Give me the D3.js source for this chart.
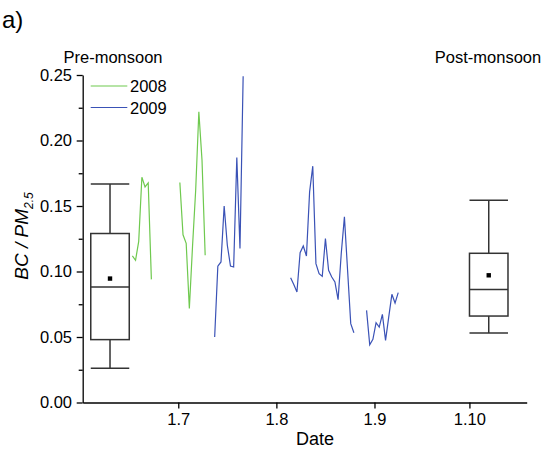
<!DOCTYPE html>
<html><head><meta charset="utf-8">
<script src="https://cdn.jsdelivr.net/npm/d3@7"></script>
<style>
html,body{margin:0;padding:0;background:#fff;}
svg text{font-family:"Liberation Sans",Arial,sans-serif;fill:#000;}
</style></head>
<body><svg id="c" width="542" height="449"></svg>
<script>
// ---- data ----
const xTickDates = ["2000-07-01","2000-08-01","2000-09-01","2000-10-01"];
const xTickLabels = ["1.7","1.8","1.9","1.10"];
const yMajorTicks = [0,0.05,0.10,0.15,0.20,0.25];
const yMinorTicks = [0.025,0.075,0.125,0.175,0.225];
const seriesNames = ["2008","2009"];
const seriesColors = ["#6fc94f","#3a52b6"];

// 2008 segments (dates, values)
const g1Dates = ["2000-06-16T12:00","2000-06-17T12:00","2000-06-18T12:00","2000-06-19T12:00","2000-06-20T12:00","2000-06-21T12:00","2000-06-22T12:00"];
const g1Values = [0.112,0.1086,0.123,0.172,0.1646,0.1677,0.094];
const g2Dates = ["2000-07-01T12:00","2000-07-02T12:00","2000-07-03T12:00","2000-07-04T12:00","2000-07-05T12:00","2000-07-06T12:00","2000-07-07T12:00","2000-07-08T12:00","2000-07-09T12:00"];
const g2Values = [0.168,0.128,0.1215,0.0717,0.119,0.162,0.222,0.185,0.1124];

// 2009 segments
const b1Dates = ["2000-07-12T12:00","2000-07-13T12:00","2000-07-14T12:00","2000-07-15T12:00","2000-07-16T12:00","2000-07-17T12:00","2000-07-18T12:00","2000-07-19T12:00","2000-07-20T12:00","2000-07-21T12:00"];
const b1Values = [0.050,0.104,0.1073,0.150,0.120,0.1042,0.1034,0.187,0.1175,0.249];
const b2Dates = ["2000-08-05T12:00","2000-08-06T12:00","2000-08-07T12:00","2000-08-08T12:00","2000-08-09T12:00","2000-08-10T12:00","2000-08-11T12:00","2000-08-12T12:00","2000-08-13T12:00","2000-08-14T12:00","2000-08-15T12:00","2000-08-16T12:00","2000-08-17T12:00","2000-08-18T12:00","2000-08-19T12:00","2000-08-20T12:00","2000-08-21T12:00","2000-08-22T12:00","2000-08-23T12:00","2000-08-24T12:00","2000-08-25T12:00"];
const b2Values = [0.0953,0.090,0.0843,0.1144,0.1195,0.1118,0.1608,0.1804,0.106,0.0984,0.0963,0.1251,0.1009,0.0958,0.092,0.0785,0.1137,0.1417,0.1009,0.0602,0.0533];
const b3Dates = ["2000-08-29T12:00","2000-08-30T12:00","2000-08-31T12:00","2000-09-01T12:00","2000-09-02T12:00","2000-09-03T12:00","2000-09-04T12:00","2000-09-05T12:00","2000-09-06T12:00","2000-09-07T12:00","2000-09-08T12:00"];
const b3Values = [0.0703,0.0441,0.0482,0.0609,0.0576,0.0673,0.0474,0.0652,0.0826,0.0759,0.0839];

// box statistics: [whiskerLow, q1, median, q3, whiskerHigh, mean]
const boxLabels = ["Pre-monsoon","Post-monsoon"];
const boxDates = ["2000-06-09T10:20","2000-10-07T02:30"];
const boxStats = [
  [0.0262,0.048,0.0881,0.129,0.1667,0.0946],
  [0.053,0.066,0.0862,0.1139,0.1544,0.0971]
];

// ---- drawing ----
const P = d3.utcParse("%Y-%m-%dT%H:%M");
const PD = d3.utcParse("%Y-%m-%d");
const svg = d3.select("#c");
const mLeft = 82.7, mRight = 526.7, mTop = 75, mBottom = 402.5;
const x = d3.scaleUtc().domain([P("2000-05-31T19:12"), P("2000-10-19T02:24")]).range([mLeft, mRight]);
const y = d3.scaleLinear().domain([0,0.25]).range([mBottom, mTop]);

// axes
const gx = svg.append("g").attr("transform",`translate(0,${mBottom})`)
  .call(d3.axisBottom(x).tickValues(xTickDates.map(d=>PD(d))).tickFormat((d,i)=>xTickLabels[i]).tickSize(6).tickSizeOuter(0));
gx.selectAll("text").attr("font-size","16.5px").attr("dy","0.8em");
const gyMinor = svg.append("g").attr("transform",`translate(${mLeft},0)`)
  .call(d3.axisLeft(y).tickValues(yMinorTicks).tickFormat("").tickSize(4).tickSizeOuter(0));
gyMinor.select(".domain").remove();
const gy = svg.append("g").attr("transform",`translate(${mLeft},0)`)
  .call(d3.axisLeft(y).tickValues(yMajorTicks).tickFormat(d3.format(".2f")).tickSize(6).tickSizeOuter(0));
gy.selectAll("text").attr("font-size","16.5px").attr("dx","-0.1em");
svg.selectAll(".domain, .tick line").attr("stroke","#000").attr("stroke-width",1.3);

// lines
const line = d3.line().x(d=>x(d[0])).y(d=>y(d[1]));
function seg(dates, vals, color){
  svg.append("path").datum(dates.map((d,i)=>[P(d),vals[i]]))
    .attr("d",line).attr("fill","none").attr("stroke",color).attr("stroke-width",1.2);
}
seg(g1Dates,g1Values,seriesColors[0]);
seg(g2Dates,g2Values,seriesColors[0]);
seg(b1Dates,b1Values,seriesColors[1]);
seg(b2Dates,b2Values,seriesColors[1]);
seg(b3Dates,b3Values,seriesColors[1]);

// boxes
const bw = 38.5;
boxStats.forEach((s,i)=>{
  const cx = x(P(boxDates[i]));
  const g = svg.append("g").attr("stroke","#333").attr("stroke-width",1.5).attr("fill","none");
  g.append("line").attr("x1",cx).attr("x2",cx).attr("y1",y(s[0])).attr("y2",y(s[1]));
  g.append("line").attr("x1",cx).attr("x2",cx).attr("y1",y(s[3])).attr("y2",y(s[4]));
  g.append("line").attr("x1",cx-bw/2).attr("x2",cx+bw/2).attr("y1",y(s[0])).attr("y2",y(s[0]));
  g.append("line").attr("x1",cx-bw/2).attr("x2",cx+bw/2).attr("y1",y(s[4])).attr("y2",y(s[4]));
  g.append("rect").attr("x",cx-bw/2).attr("y",y(s[3])).attr("width",bw).attr("height",y(s[1])-y(s[3]));
  g.append("line").attr("x1",cx-bw/2).attr("x2",cx+bw/2).attr("y1",y(s[2])).attr("y2",y(s[2]));
  svg.append("rect").attr("x",cx-2.2).attr("y",y(s[5])-2.2).attr("width",4.4).attr("height",4.4).attr("fill","#000");
});

// legend
seriesNames.forEach((n,i)=>{
  const ly = 86 + i*21.5;
  svg.append("line").attr("x1",90.7).attr("x2",127.3).attr("y1",ly).attr("y2",ly)
    .attr("stroke",seriesColors[i]).attr("stroke-width",1.2);
  svg.append("text").attr("x",130).attr("y",ly+6).attr("font-size","16.5px").text(n);
});

// season labels
svg.append("text").attr("x",113).attr("y",63).attr("text-anchor","middle").attr("font-size","16.5px").text(boxLabels[0]);
svg.append("text").attr("x",488).attr("y",63).attr("text-anchor","middle").attr("font-size","16.5px").text(boxLabels[1]);

// titles
svg.append("text").attr("x",315).attr("y",445).attr("text-anchor","middle").attr("font-size","18px").text("Date");
const yl = svg.append("text").attr("transform","translate(28,236) rotate(-90)").attr("text-anchor","middle")
  .attr("font-size","19px").attr("font-style","italic");
yl.append("tspan").text("BC / PM");
yl.append("tspan").attr("font-size","12px").attr("dy","5").text("2.5");
svg.append("text").attr("x",2).attr("y",28).attr("font-size","24px").text("a)");
</script></body></html>
